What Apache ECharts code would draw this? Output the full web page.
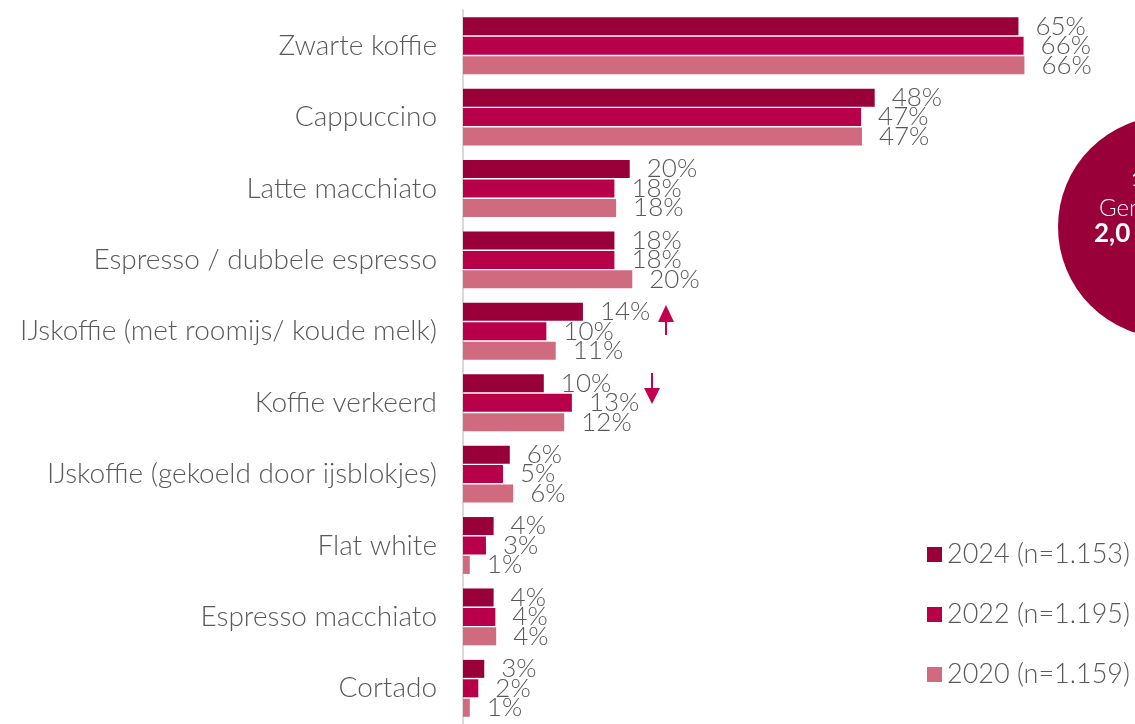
<!DOCTYPE html>
<html lang="nl" style="height: 100%">
<head>
    <meta charset="UTF-8">
    <title>Koffiesoorten</title>
    <script src="https://cdn.jsdelivr.net/npm/echarts@6/dist/echarts.min.js"></script>
</head>
<body style="height: 100%; margin: 0">
<div id="main" style="width: 1135px; height: 724px"></div>
<script>
    var categories = ['Zwarte koffie', 'Cappuccino', 'Latte macchiato', 'Espresso / dubbele espresso',
        'IJskoffie (met roomijs/ koude melk)', 'Koffie verkeerd', 'IJskoffie (gekoeld door ijsblokjes)',
        'Flat white', 'Espresso macchiato', 'Cortado'];
    var seriesNames = ['2024 (n=1.153)', '2022 (n=1.195)', '2020 (n=1.159)'];
    var data2024 = [65.3, 48.4, 19.6, 17.8, 14.1, 9.5, 5.5, 3.6, 3.6, 2.5];
    var data2022 = [65.9, 46.8, 17.8, 17.8, 9.8, 12.8, 4.7, 2.7, 3.8, 1.8];
    var data2020 = [66.0, 46.9, 18.0, 19.9, 10.9, 11.9, 5.9, 0.8, 3.9, 0.8];
    var colors = ['#990039', '#b8004a', '#d06a7e'];

    var font = 'Lato, "Noto Sans", sans-serif';
    var grey = '#595959';

    function makeSeries(name, data, color) {
        return {
            name: name,
            type: 'bar',
            data: data,
            barWidth: 18,
            barGap: '8%',
            itemStyle: {color: color},
            label: {
                show: true,
                position: 'right',
                distance: 17,
                fontSize: 26,
                fontWeight: 300,
                fontFamily: font,
                color: grey,
                formatter: function (p) { return Math.round(p.value) + '%'; }
            }
        };
    }

    var myoption = {
        animation: false,
        textStyle: {fontFamily: font},
        grid: {left: 463, right: 0, top: 10, bottom: -6},
        legend: {
            data: seriesNames,
            orient: 'vertical',
            right: 0,
            top: 536,
            icon: 'rect',
            itemWidth: 15,
            itemHeight: 15,
            itemGap: 33,
            textStyle: {fontSize: 27, color: grey, fontFamily: font, fontWeight: 300}
        },
        xAxis: {
            type: 'value',
            min: 0,
            max: 79,
            show: false
        },
        yAxis: {
            type: 'category',
            data: categories,
            inverse: true,
            axisTick: {show: false},
            axisLine: {lineStyle: {color: '#d9d9d9', width: 2}},
            axisLabel: {fontSize: 28, color: grey, margin: 26, fontFamily: font, fontWeight: 300}
        },
        series: [
            makeSeries(seriesNames[0], data2024, colors[0]),
            makeSeries(seriesNames[1], data2022, colors[1]),
            makeSeries(seriesNames[2], data2020, colors[2])
        ],
        graphic: [
            // badge rechts, deels buiten beeld
            {type: 'circle', shape: {cx: 1169, cy: 227, r: 111}, style: {fill: '#990039'}, z: 10},
            {type: 'text', x: 1131, y: 170, style: {text: '1', fill: '#fff', font: '20px ' + font}, z: 11},
            {type: 'text', x: 1099, y: 196, style: {text: 'Gemiddeld', fill: '#fff', font: '300 24px ' + font}, z: 11},
            {type: 'text', x: 1094, y: 221, style: {text: '2,0', fill: '#fff', font: 'bold 26px ' + font}, z: 11},
            // pijlen
            {type: 'line', shape: {x1: 666, y1: 318, x2: 666, y2: 335}, style: {stroke: '#c2004f', lineWidth: 2}, z: 10},
            {type: 'polygon', shape: {points: [[666, 305], [658, 322], [674, 322]]}, style: {fill: '#c2004f'}, z: 10},
            {type: 'line', shape: {x1: 652, y1: 373, x2: 652, y2: 392}, style: {stroke: '#c2004f', lineWidth: 2}, z: 10},
            {type: 'polygon', shape: {points: [[652, 404], [644, 388], [660, 388]]}, style: {fill: '#c2004f'}, z: 10}
        ]
    };
    var myChart = echarts.init(document.getElementById('main'));
    myChart.setOption(myoption);
</script>
</body>
</html>
